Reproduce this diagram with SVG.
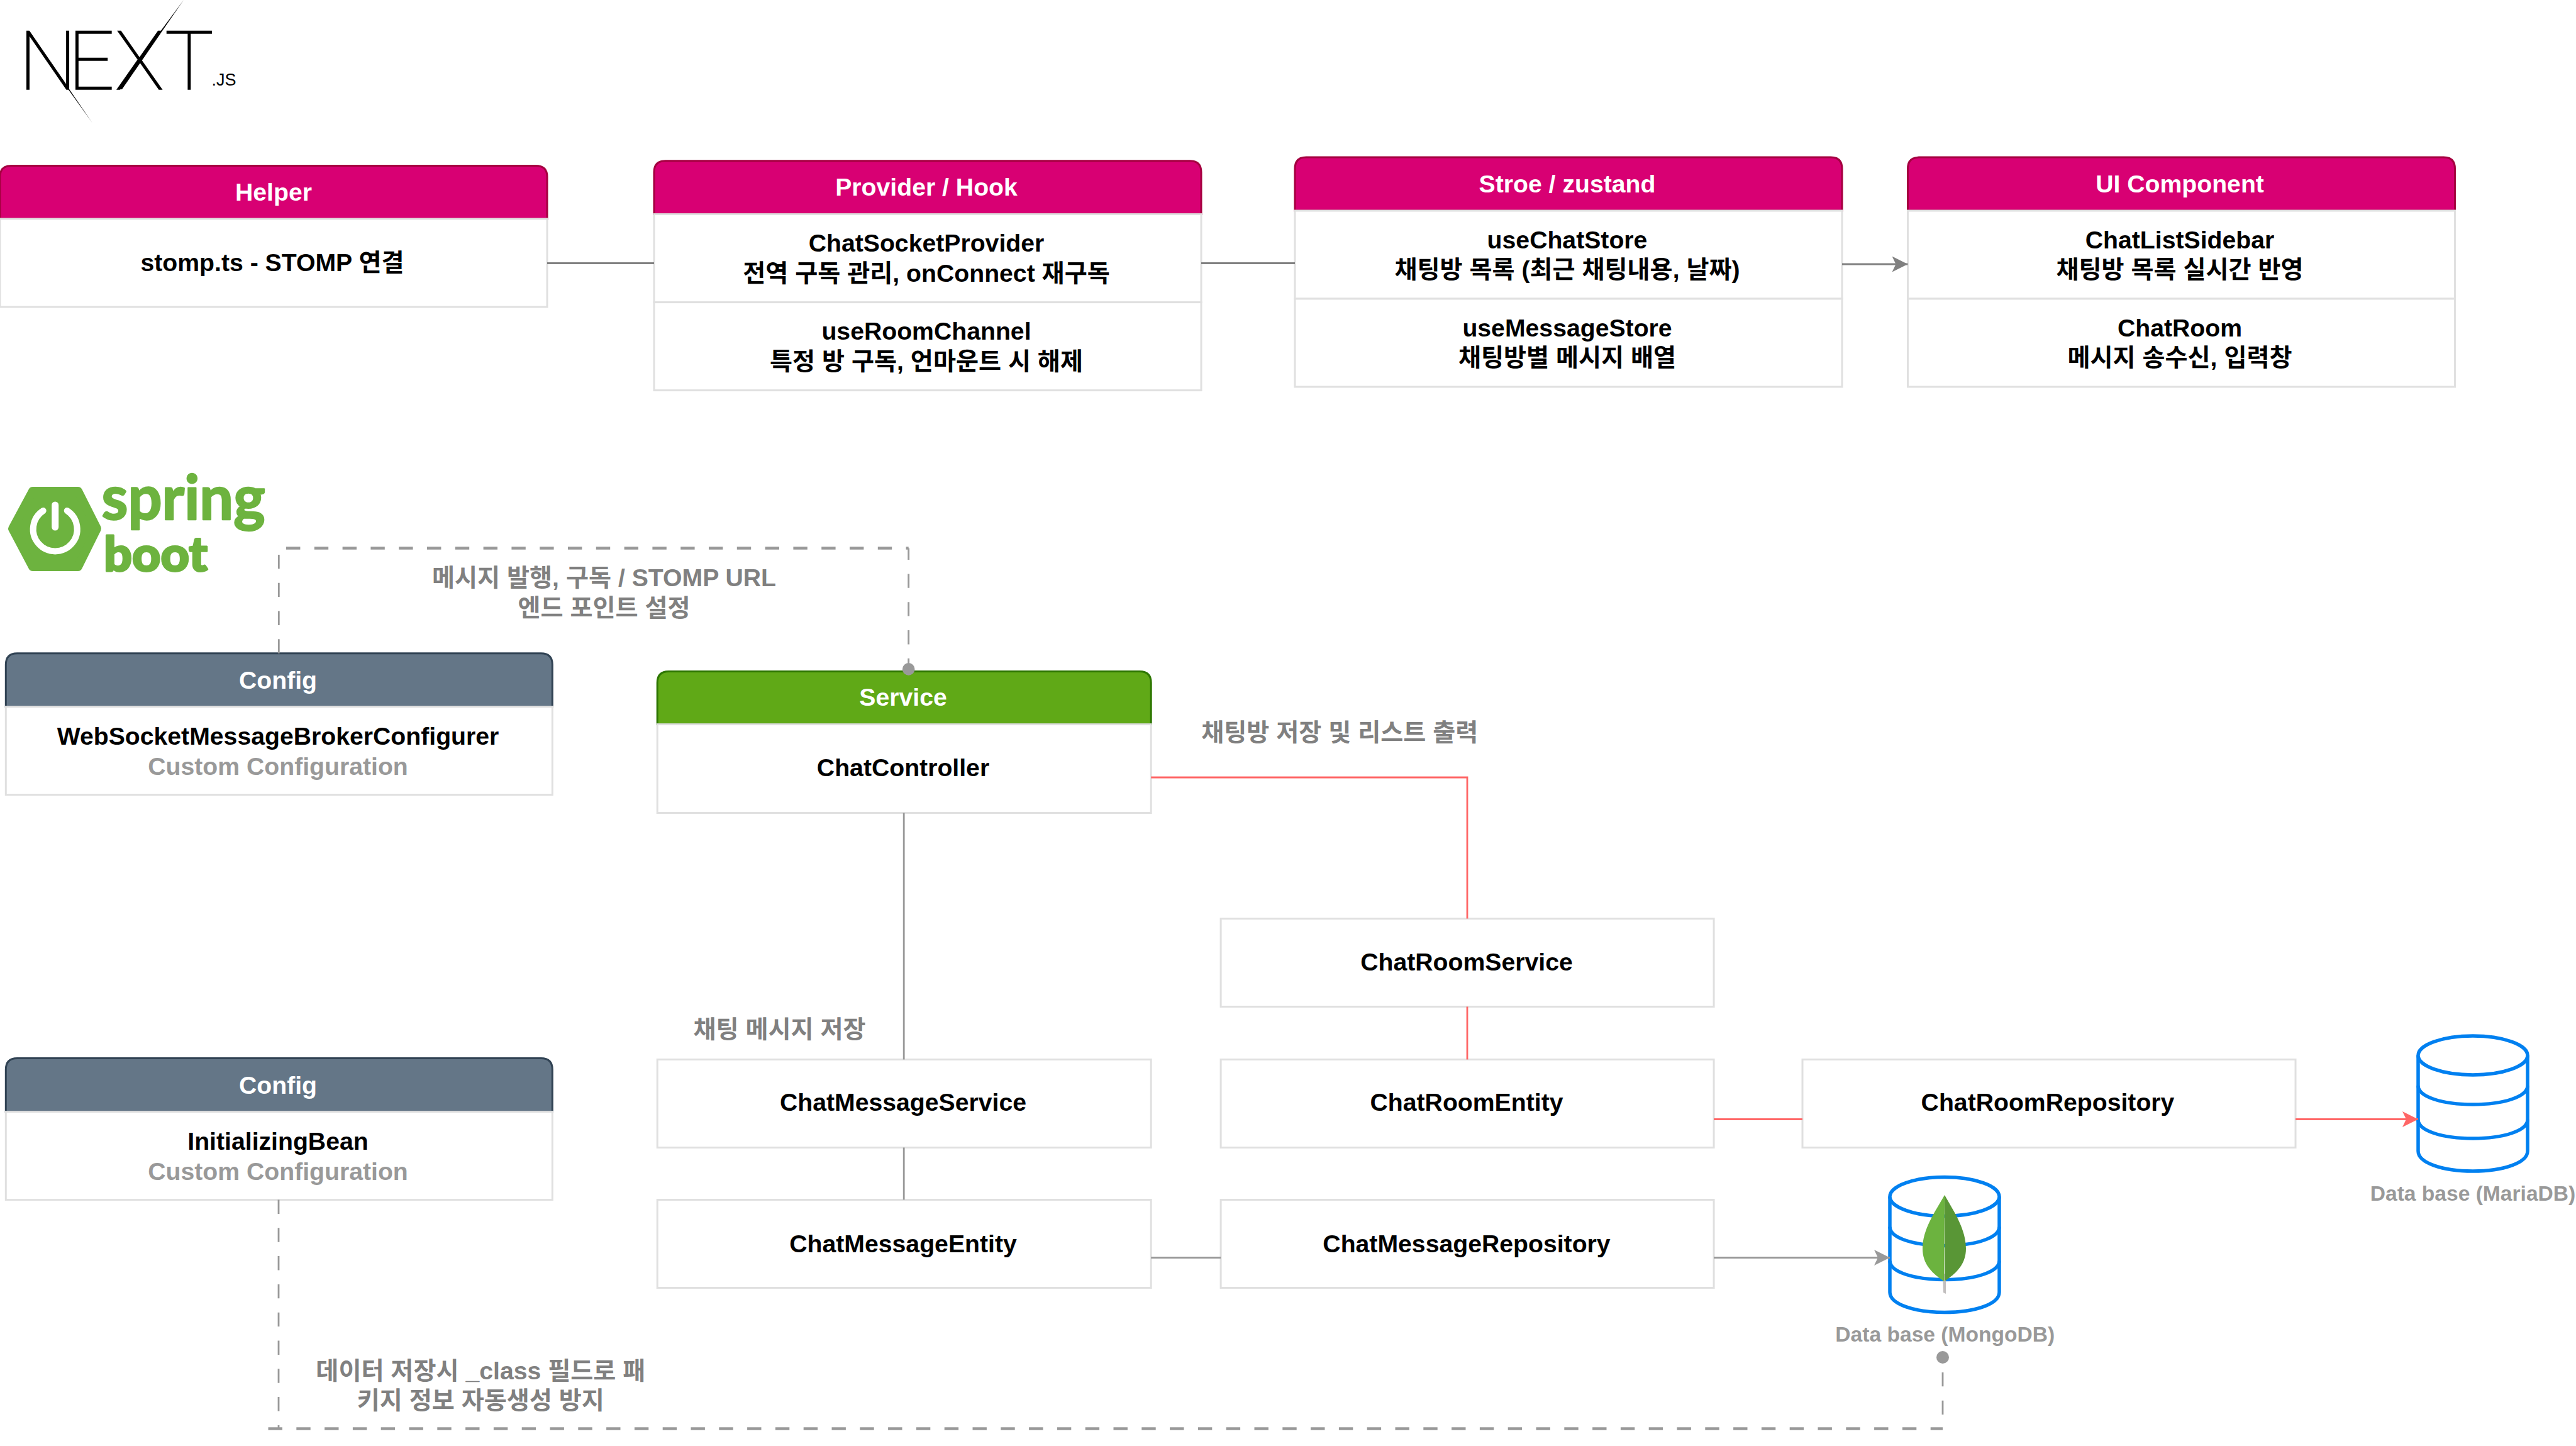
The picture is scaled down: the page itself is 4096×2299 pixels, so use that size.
<svg xmlns="http://www.w3.org/2000/svg" width="4096" height="2299" viewBox="0 0 4096 2299">
<style>
text{font-family:"Liberation Sans","Noto Sans CJK KR",sans-serif;font-weight:700;text-anchor:middle}
.t{font-size:39.2px;fill:#000}
.h{font-size:39.2px;fill:#fff}
.sub{font-size:39.2px;fill:#999}
.lbl{font-size:39.2px;fill:#808080}
.db{font-size:33.6px;fill:#999}
.body{fill:#fff;stroke:#e0e0e0;stroke-width:3}
.pink{fill:#d80073;stroke:#a50040;stroke-width:3}
.slate{fill:#647687;stroke:#314354;stroke-width:3}
.green{fill:#60a917;stroke:#2d7600;stroke-width:3}
.c{fill:none;stroke:#808080;stroke-width:2.800}
.g{fill:none;stroke:#999;stroke-width:2.800}
.r{fill:none;stroke:#f66;stroke-width:2.800}
.d{fill:none;stroke:#999;stroke-width:2.800;stroke-dasharray:22.4 22.4}
.dh{fill:none;stroke:#999;stroke-width:4.500;stroke-dasharray:22.4 22.4}
.cyl{fill:#fff;stroke:#0080f0;stroke-width:5.500}
.logo{fill:#6db33f}
</style>
<defs>
<marker id="ag" markerUnits="userSpaceOnUse" markerWidth="25" markerHeight="26" refX="25" refY="13" orient="auto"><path d="M0,0.500 L25,13 L0,25.500 L6,13 Z" fill="#999"/></marker>
<marker id="ac" markerUnits="userSpaceOnUse" markerWidth="25" markerHeight="26" refX="25" refY="13" orient="auto"><path d="M0,0.500 L25,13 L0,25.500 L6,13 Z" fill="#808080"/></marker>
<marker id="ar" markerUnits="userSpaceOnUse" markerWidth="25" markerHeight="26" refX="25" refY="13" orient="auto"><path d="M0,0.500 L25,13 L0,25.500 L6,13 Z" fill="#f66"/></marker>
<g id="cylinder">
<path class="cyl" d="M0,32 V184 C0,203 39,216 87,216 C135,216 174,203 174,184 V32"/>
<ellipse class="cyl" cx="87" cy="32" rx="87" ry="31"/>
<path class="cyl" style="fill:none" d="M0,80 C0,98 39,110 87,110 C135,110 174,98 174,80"/>
<path class="cyl" style="fill:none" d="M0,134 C0,152 39,164 87,164 C135,164 174,152 174,134"/>
</g>
</defs>
<rect width="4096" height="2299" fill="#fff"/>

<g id="logo-next">
<text x="0" y="142.300" stroke="#000" stroke-width="1.500" style="font-family:Roboto,'Liberation Sans',sans-serif;font-weight:100;font-size:130px;text-anchor:start"><tspan x="30">N</tspan><tspan x="108">E</tspan><tspan x="183">X</tspan><tspan x="262">T</tspan></text>
<polygon points="42,49.500 47,49.500 146.500,195" fill="#000"/>
<polygon points="186.600,142 194,142 292,0" fill="#000"/>
<text x="356" y="135.500" style="font-family:'Liberation Sans',sans-serif;font-weight:400;font-size:27px">.JS</text>
</g>

<g id="logo-spring">
<polygon class="logo" stroke="#6db33f" stroke-width="14" stroke-linejoin="round" points="20,840.500 52,781 124,781 154,840.500 124,901 52,901"/>
<path d="M68.700 812 A35 35 0 1 0 106.700 812" fill="none" stroke="#fff" stroke-width="10" stroke-linecap="round"/>
<path d="M87.700 803 V838" fill="none" stroke="#fff" stroke-width="11" stroke-linecap="round"/>
<text x="161.500" y="826" textLength="260" lengthAdjust="spacingAndGlyphs" stroke="#6db33f" stroke-width="2.500" stroke-linejoin="round" style="font-family:Lato,sans-serif;font-weight:700;font-size:98px;text-anchor:start;fill:#6db33f">spring</text>
<text x="165" y="908" textLength="165" lengthAdjust="spacingAndGlyphs" stroke="#6db33f" stroke-width="3" stroke-linejoin="round" style="font-family:Lato,sans-serif;font-weight:900;font-size:76px;text-anchor:start;fill:#6db33f">boot</text>
</g>

<g id="node-helper">
<path class="pink" d="M0,348 V281 Q0,263.500 18,263.500 H852 Q870,263.500 870,281 V348 Z"/>
<rect class="body" x="0" y="348" width="870" height="140"/>
<text class="h" x="435" y="318.500">Helper</text>
<text class="t" x="433" y="430.500">stomp.ts - STOMP 연결</text>
</g>

<g id="node-provider">
<path class="pink" d="M1040,340.600 V273.700 Q1040,255.700 1058,255.700 H1892 Q1910,255.700 1910,273.700 V340.600 Z"/>
<rect class="body" x="1040" y="340.600" width="870" height="140"/>
<rect class="body" x="1040" y="480.600" width="870" height="140"/>
<text class="h" x="1473" y="311">Provider / Hook</text>
<text class="t" x="1473" y="400.300">ChatSocketProvider</text>
<text class="t" x="1473" y="447.500">전역 구독 관리, onConnect 재구독</text>
<text class="t" x="1473" y="540.300">useRoomChannel</text>
<text class="t" x="1473" y="587.500">특정 방 구독, 언마운트 시 해제</text>
</g>

<g id="node-store">
<path class="pink" d="M2059,335 V268.100 Q2059,250.100 2077,250.100 H2911 Q2929,250.100 2929,268.100 V335 Z"/>
<rect class="body" x="2059" y="335" width="870" height="140"/>
<rect class="body" x="2059" y="475" width="870" height="140"/>
<text class="h" x="2492" y="305.800">Stroe / zustand</text>
<text class="t" x="2492" y="394.700">useChatStore</text>
<text class="t" x="2492" y="442.400">채팅방 목록 (최근 채팅내용, 날짜)</text>
<text class="t" x="2492" y="534.700">useMessageStore</text>
<text class="t" x="2492" y="582">채팅방별 메시지 배열</text>
</g>

<g id="node-ui">
<path class="pink" d="M3033.500,335 V268.100 Q3033.500,250.100 3051.500,250.100 H3885.500 Q3903.500,250.100 3903.500,268.100 V335 Z"/>
<rect class="body" x="3033.500" y="335" width="870" height="140"/>
<rect class="body" x="3033.500" y="475" width="870" height="140"/>
<text class="h" x="3466" y="305.800">UI Component</text>
<text class="t" x="3466" y="394.700">ChatListSidebar</text>
<text class="t" x="3466" y="442.400">채팅방 목록 실시간 반영</text>
<text class="t" x="3466" y="534.700">ChatRoom</text>
<text class="t" x="3466" y="582">메시지 송수신, 입력창</text>
</g>

<g id="node-config-ws">
<path class="slate" d="M9.300,1123.600 V1056.700 Q9.300,1038.700 27.300,1038.700 H860.300 Q878.300,1038.700 878.300,1056.700 V1123.600 Z"/>
<rect class="body" x="9.300" y="1123.600" width="869" height="140"/>
<text class="h" x="442" y="1095">Config</text>
<text class="t" x="442" y="1184.400">WebSocketMessageBrokerConfigurer</text>
<text class="sub" x="442" y="1231.500">Custom Configuration</text>
</g>

<g id="node-service">
<path class="green" d="M1045.200,1151.600 V1085.600 Q1045.200,1067.600 1063.200,1067.600 H1812.200 Q1830.200,1067.600 1830.200,1085.600 V1151.600 Z"/>
<rect class="body" x="1045.200" y="1151.600" width="785" height="140.900"/>
<text class="h" x="1436" y="1122">Service</text>
<text class="t" x="1436" y="1233.800">ChatController</text>
</g>

<g id="node-config-init">
<path class="slate" d="M9.300,1767.600 V1700.600 Q9.300,1682.600 27.300,1682.600 H860.300 Q878.300,1682.600 878.300,1700.600 V1767.600 Z"/>
<rect class="body" x="9.300" y="1767.600" width="869" height="140"/>
<text class="h" x="442" y="1739">Config</text>
<text class="t" x="442" y="1828.200">InitializingBean</text>
<text class="sub" x="442" y="1875.800">Custom Configuration</text>
</g>

<g id="node-chatmessageservice"><rect class="body" x="1045.200" y="1684.500" width="785" height="140"/><text class="t" x="1436" y="1766">ChatMessageService</text></g>
<g id="node-chatmessageentity"><rect class="body" x="1045.200" y="1907.500" width="785" height="140"/><text class="t" x="1436" y="1990.500">ChatMessageEntity</text></g>
<g id="node-chatroomservice"><rect class="body" x="1941.100" y="1460.500" width="784" height="140"/><text class="t" x="2332" y="1543">ChatRoomService</text></g>
<g id="node-chatroomentity"><rect class="body" x="1941.100" y="1684.500" width="784" height="140"/><text class="t" x="2332" y="1766">ChatRoomEntity</text></g>
<g id="node-chatmessagerepository"><rect class="body" x="1941.100" y="1907.500" width="784" height="140"/><text class="t" x="2332" y="1990.500">ChatMessageRepository</text></g>
<g id="node-chatroomrepository"><rect class="body" x="2866" y="1684.500" width="784" height="140"/><text class="t" x="3256" y="1766">ChatRoomRepository</text></g>

<g id="node-mariadb">
<use href="#cylinder" x="3845" y="1646"/>
<text class="db" x="3932" y="1908.500">Data base (MariaDB)</text>
</g>

<g id="node-mongodb">
<use href="#cylinder" x="3005" y="1870.500"/>
<polygon points="3089,2025 3094,2025 3094,2057 3090,2055" fill="#c2bfbf"/>
<path d="M3092,1900 C3076,1928 3057,1955 3057,1985 C3057,2012 3075,2026 3091,2037 Z" fill="#6cb33f"/>
<path d="M3092,1900 C3108,1928 3126,1955 3126,1985 C3126,2012 3108,2026 3092,2037 Z" fill="#599636"/>
<text class="db" x="3092.800" y="2133">Data base (MongoDB)</text>
</g>

<g id="connectors">
<path class="c" d="M870,418.500 H1040"/>
<path class="c" d="M1910,418.500 H2059"/>
<path class="c" d="M2929,420 H3033.500" marker-end="url(#ac)"/>
<path class="d" d="M443.300,1038.700 V871.600"/>
<path class="dh" d="M443.300,871.600 H1444.700" stroke-dashoffset="33.100"/>
<path class="d" d="M1444.700,871.600 V1063.900" stroke-dashoffset="4"/>
<circle cx="1444.700" cy="1063.900" r="9.800" fill="#999"/>
<path class="g" d="M1437.200,1292.500 V1684.500"/>
<path class="g" d="M1437.200,1824.500 V1907.500"/>
<path class="r" d="M1830.200,1236 H2333 V1460.500"/>
<path class="r" d="M2333,1600.500 V1684.500"/>
<path class="r" d="M2725.100,1779.500 H2866"/>
<path class="r" d="M3650,1779.500 H3845" marker-end="url(#ar)"/>
<path class="g" d="M1830.200,1999.500 H1941.100"/>
<path class="g" d="M2725.100,1999.500 H3005" marker-end="url(#ag)"/>
<path class="d" d="M443,1907.500 V2271.500"/>
<path class="dh" d="M426.500,2271.500 H3089"/>
<path class="d" d="M3089,2271.500 V2158" stroke-dashoffset="22.400"/>
<circle cx="3089" cy="2158" r="10" fill="#999"/>
</g>

<g id="labels">
<text class="lbl" x="960.500" y="932.300">메시지 발행, 구독 / STOMP URL</text>
<text class="lbl" x="960.500" y="979.500">엔드 포인트 설정</text>
<text class="lbl" x="2130.300" y="1178">채팅방 저장 및 리스트 출력</text>
<text class="lbl" x="1239.500" y="1650">채팅 메시지 저장</text>
<text class="lbl" x="764.300" y="2193">데이터 저장시 _class 필드로 패</text>
<text class="lbl" x="764.300" y="2239.800">키지 정보 자동생성 방지</text>
</g>
</svg>
